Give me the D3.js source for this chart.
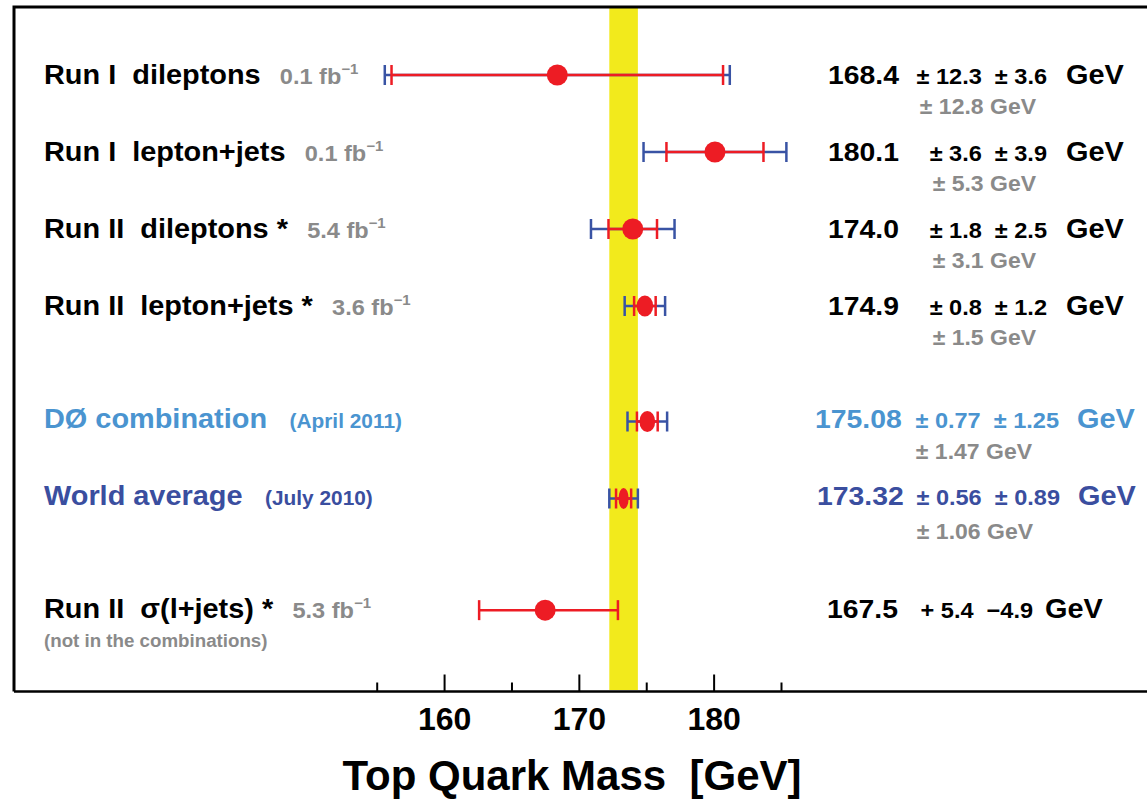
<!DOCTYPE html>
<html>
<head>
<meta charset="utf-8">
<script src="https://cdn.jsdelivr.net/npm/d3@7"></script>
<style>
  html, body { margin: 0; padding: 0; background: #fff; }
  svg { display: block; font-family: "Liberation Sans", Arial, Helvetica, sans-serif; font-weight: bold; }
  text { white-space: pre; }
</style>
</head>
<body>
<svg id="chart" width="1147" height="800"></svg>
<script>
// ---- measurements of the top quark mass (GeV) ----
const labels   = ["Run I  dileptons", "Run I  lepton+jets", "Run II  dileptons *", "Run II  lepton+jets *",
                  "DØ combination", "World average", "Run II  σ(l+jets) *"];
const kinds    = ["meas", "meas", "meas", "meas", "d0", "world", "xsec"];
const lumis    = ["0.1", "0.1", "5.4", "3.6", null, null, "5.3"];
const dates    = [null, null, null, null, "(April 2011)", "(July 2010)", null];
const notes    = [null, null, null, null, null, null, "(not in the combinations)"];
const mass     = [168.4, 180.1, 174.0, 174.9, 175.08, 173.32, 167.5];
const errMinus = [12.3, 3.6, 1.8, 0.8, 0.77, 0.56, 4.9];   // statistical (full error for the σ result)
const errPlus  = [12.3, 3.6, 1.8, 0.8, 0.77, 0.56, 5.4];
const systErr  = [3.6, 3.9, 2.5, 1.2, 1.25, 0.89, null];
const totalErr = [12.8, 5.3, 3.1, 1.5, 1.47, 1.06, null];
const majorTicks = [160, 170, 180];
const minorTicks = [155, 165, 175, 185];
const bandRow = 5;   // world average sets the yellow band

// ---- layout ----
const svg = d3.select("#chart");
const frame = { left: 14, top: 7, bottom: 691.5, right: 1147 };
const x = d3.scaleLinear().domain([155, 185]).range([376.7, 781]);
const rowSlot = [0, 1, 2, 3, 4.5, 5.5, 6.95];
const y = d3.scaleLinear().domain([0, 1]).range([75, 152]);
const SX = 1.07;           // horizontal stretch of the lettering
const RED = "#ed1c24", BLUE = "#3953a4", GRAY = "#8a8a8a", YELLOW = "#f2ea1c";

const kindStyle = {
  meas:  { color: "#000",    dec: 1, valX: 828, statEnd: 1047, gevX: 1066, totEnd: 1036, dy: 9, dyTot: 39 },
  d0:    { color: "#4a94d0", dec: 2, valX: 815, statEnd: 1059, gevX: 1077, totEnd: 1032, dy: 6, dyTot: 37 },
  world: { color: "#3a4e9f", dec: 2, valX: 817, statEnd: 1060, gevX: 1078, totEnd: 1033, dy: 6, dyTot: 40 },
  xsec:  { color: "#000",    dec: 1, valX: 827, statEnd: 1033, gevX: 1045, dy: 8 }
};

function stext(g, px, py, anchor) {
  return g.append("text")
    .attr("transform", `translate(${px},${py}) scale(${SX},1)`)
    .attr("text-anchor", anchor || "start");
}

// ---- yellow band: world average ± total ----
svg.append("rect")
  .attr("x", x(mass[bandRow] - totalErr[bandRow]))
  .attr("width", x(mass[bandRow] + totalErr[bandRow]) - x(mass[bandRow] - totalErr[bandRow]))
  .attr("y", frame.top)
  .attr("height", frame.bottom - frame.top - 1.5)
  .attr("fill", YELLOW);

// ---- frame ----
svg.append("path")
  .attr("d", `M${frame.right},${frame.top}H${frame.left}V${frame.bottom}`)
  .attr("fill", "none").attr("stroke", "#000").attr("stroke-width", 3);
svg.append("line")
  .attr("x1", frame.left).attr("x2", frame.right)
  .attr("y1", frame.bottom).attr("y2", frame.bottom)
  .attr("stroke", "#000").attr("stroke-width", 2.5);

// ---- axis ----
const axisMajor = svg.append("g").attr("transform", `translate(0,${frame.bottom})`)
  .call(d3.axisBottom(x).tickValues(majorTicks).tickSize(-17).tickPadding(16).tickFormat(d3.format("d")));
const axisMinor = svg.append("g").attr("transform", `translate(0,${frame.bottom})`)
  .call(d3.axisBottom(x).tickValues(minorTicks).tickSize(-9).tickFormat(() => ""));
[axisMajor, axisMinor].forEach(a => {
  a.select(".domain").remove();
  a.selectAll(".tick line").attr("stroke", "#000").attr("stroke-width", 2);
});
axisMajor.selectAll(".tick text")
  .attr("fill", "#000")
  .attr("font-family", "'Liberation Sans', Arial, sans-serif")
  .attr("font-weight", "bold")
  .attr("font-size", 32);

svg.append("text")
  .attr("x", 572).attr("y", 790)
  .attr("text-anchor", "middle")
  .attr("font-size", 42)
  .attr("fill", "#000")
  .text("Top Quark Mass  [GeV]");

// ---- rows ----
mass.forEach((m, i) => {
  const st = kindStyle[kinds[i]];
  const yy = y(rowSlot[i]);
  const g = svg.append("g");

  // left label
  const lab = stext(g, 44, yy + (kinds[i] === "meas" ? 9 : st.dy)).attr("fill", st.color).attr("font-size", 27);
  lab.append("tspan").text(labels[i]);
  if (lumis[i]) {
    lab.append("tspan").attr("dx", 18).attr("font-size", 22).attr("fill", GRAY).text(lumis[i] + " fb");
    lab.append("tspan").attr("dy", -10).attr("font-size", 14).attr("fill", GRAY).text("\u22121");
  }
  if (dates[i]) {
    lab.append("tspan").attr("dx", 21).attr("font-size", 19.5).text(dates[i]);
  }
  if (notes[i]) {
    stext(g, 44, yy + 37).attr("fill", GRAY).attr("font-size", 17.5).text(notes[i]);
  }

  // total error bar (blue)
  if (totalErr[i] != null) {
    const lo = x(m - totalErr[i]), hi = x(m + totalErr[i]);
    g.append("line").attr("x1", lo).attr("x2", hi).attr("y1", yy).attr("y2", yy)
      .attr("stroke", BLUE).attr("stroke-width", 2.5);
    [lo, hi].forEach(cx => g.append("line").attr("x1", cx).attr("x2", cx)
      .attr("y1", yy - 10).attr("y2", yy + 10).attr("stroke", BLUE).attr("stroke-width", 2.5));
  }
  // statistical error bar (red)
  const rlo = x(m - errMinus[i]), rhi = x(m + errPlus[i]);
  g.append("line").attr("x1", rlo).attr("x2", rhi).attr("y1", yy).attr("y2", yy)
    .attr("stroke", RED).attr("stroke-width", 2.5);
  [rlo, rhi].forEach(cx => g.append("line").attr("x1", cx).attr("x2", cx)
    .attr("y1", yy - 10).attr("y2", yy + 10).attr("stroke", RED).attr("stroke-width", 2.5));
  // central value
  const rx = Math.min(10.5, Math.min(rhi - x(m), x(m) - rlo) - 2.5);
  g.append("ellipse").attr("cx", x(m)).attr("cy", yy).attr("rx", rx).attr("ry", 10.5).attr("fill", RED);

  // right-hand numbers
  const f = d3.format(`.${st.dec}f`);
  stext(g, st.valX, yy + st.dy).attr("fill", st.color).attr("font-size", 26.5).text(f(m));
  const errText = systErr[i] != null
    ? `± ${f(errMinus[i])}  ± ${f(systErr[i])}`
    : `+ ${f(errPlus[i])}  \u2212${f(errMinus[i])}`;
  stext(g, st.statEnd, yy + st.dy, "end").attr("fill", st.color).attr("font-size", 22).text(errText);
  stext(g, st.gevX, yy + st.dy).attr("fill", st.color).attr("font-size", 27).text("GeV");
  if (totalErr[i] != null) {
    stext(g, st.totEnd, yy + st.dyTot, "end").attr("fill", GRAY).attr("font-size", 21.5)
      .text(`± ${f(totalErr[i])} GeV`);
  }
});
</script>
</body>
</html>
